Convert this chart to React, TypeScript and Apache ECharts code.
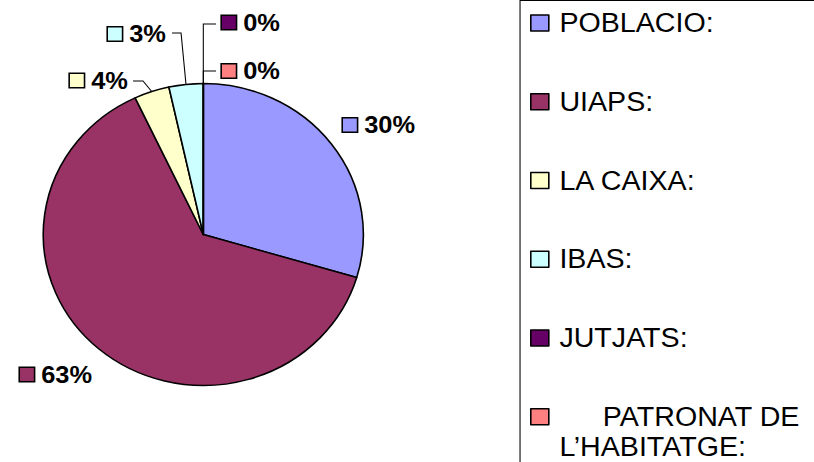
import React, { useEffect, useRef } from "react";
import * as echarts from "echarts";

// ---- data ----
const CATEGORIES = [
  "POBLACIO:",
  "UIAPS:",
  "LA CAIXA:",
  "IBAS:",
  "JUTJATS:",
  "PATRONAT DE L’HABITATGE:",
];
const VALUES = [29.6, 63.4, 3.55, 3.45, 0, 0];
const COLORS = ["#9999FF", "#993366", "#FFFFCC", "#CCFFFF", "#660066", "#FF8080"];
const SHOW_LEADER = [false, false, true, true, true, true];

// ---- layout (chart is drawn in an unscaled frame, then stretched horizontally) ----
const SX = 1.06;
const W = 814 / SX;
const H = 462;
const FONT = "'Liberation Sans', Arial, Helvetica, sans-serif";

// label anchor (left, middle) per slice
const LABEL_POS = [
  { x: 323.6, y: 125 },
  { x: 18.9, y: 374.5 },
  { x: 66, y: 80.5 },
  { x: 101.9, y: 34 },
  { x: 209.4, y: 22.5 },
  { x: 209.4, y: 71 },
];
// leader line bend + end points per slice
const LEADER = [
  null,
  null,
  [[134.9, 81], [125.5, 81]],
  [[170.8, 33], [162.3, 33]],
  [[191.8, 24], [203.8, 24]],
  [[191.8, 71], [203.8, 71]],
];

export default function App() {
  const ref = useRef<HTMLDivElement>(null);

  useEffect(() => {
    if (!ref.current) return;
    const chart = echarts.init(ref.current, null, { renderer: "svg" });

    const rich: Record<string, any> = {
      v: {
        fontSize: 24,
        fontWeight: "bold",
        fontFamily: FONT,
        color: "#000",
        padding: [0, 0, 0, 7],
      },
    };
    COLORS.forEach((c, i) => {
      rich["m" + i] = {
        width: 13,
        height: 13,
        backgroundColor: c,
        borderColor: "#000",
        borderWidth: 1.5,
      };
    });

    const data = CATEGORIES.map((name, i) => ({
      name,
      value: VALUES[i],
      itemStyle: { color: COLORS[i] },
      labelLine: { show: SHOW_LEADER[i] },
    }));

    chart.setOption({
      animation: false,
      backgroundColor: "#ffffff",
      graphic: [
        {
          type: "rect",
          silent: true,
          shape: { x: 490.6, y: 0.5, width: 400, height: 600 },
          style: { fill: "none", stroke: "#000", lineWidth: 1 },
        },
      ],
      legend: {
        orient: "vertical",
        left: 500,
        top: 7,
        height: 1000,
        padding: 0,
        itemGap: 46.75,
        itemWidth: 17,
        itemHeight: 16,
        icon: "rect",
        selectedMode: false,
        itemStyle: { borderColor: "#000", borderWidth: 1.5 },
        data: CATEGORIES.map((name, i) =>
          i === 5
            ? { name, textStyle: { padding: [0, 0, -28, 5] } }
            : { name }
        ),
        formatter: (name: string) =>
          name === CATEGORIES[5] ? "{a|PATRONAT DE}\n{b|L’HABITATGE:}" : name,
        textStyle: {
          fontSize: 27,
          fontFamily: FONT,
          color: "#000",
          lineHeight: 32,
          backgroundColor: "transparent",
          padding: [0, 0, 0, 5],
          rich: {
            a: { fontSize: 27, fontFamily: FONT, color: "#000", lineHeight: 32, padding: [0, 0, 0, 41] },
            b: { fontSize: 27, fontFamily: FONT, color: "#000", lineHeight: 28 },
          },
        },
      },
      series: [
        {
          type: "pie",
          center: [191.8, 234.5],
          radius: 151,
          startAngle: 90,
          clockwise: true,
          avoidLabelOverlap: false,
          emphasis: { disabled: true },
          itemStyle: { borderColor: "#000", borderWidth: 1.5 },
          label: {
            show: true,
            position: "outside",
            formatter: (p: any) => `{m${p.dataIndex}|}{v|${Math.round(p.percent)}%}`,
            rich,
          },
          labelLine: {
            show: true,
            length: 10,
            length2: 10,
            smooth: false,
            lineStyle: { color: "#000", width: 1 },
          },
          labelLayout: (params: any) => {
            const i = params.dataIndex;
            const pos = LABEL_POS[i];
            const res: any = { x: pos.x, y: pos.y, align: "left", verticalAlign: "middle" };
            const bend = LEADER[i];
            if (bend && params.labelLinePoints && params.labelLinePoints[0]) {
              res.labelLinePoints = [params.labelLinePoints[0], bend[0], bend[1]];
            }
            return res;
          },
          data,
        },
      ],
    });

    return () => chart.dispose();
  }, []);

  return (
    <div
      ref={ref}
      style={{
        position: "absolute",
        left: 0,
        top: 0,
        width: W,
        height: H,
        transform: `scaleX(${SX})`,
        transformOrigin: "0 0",
      }}
    />
  );
}
